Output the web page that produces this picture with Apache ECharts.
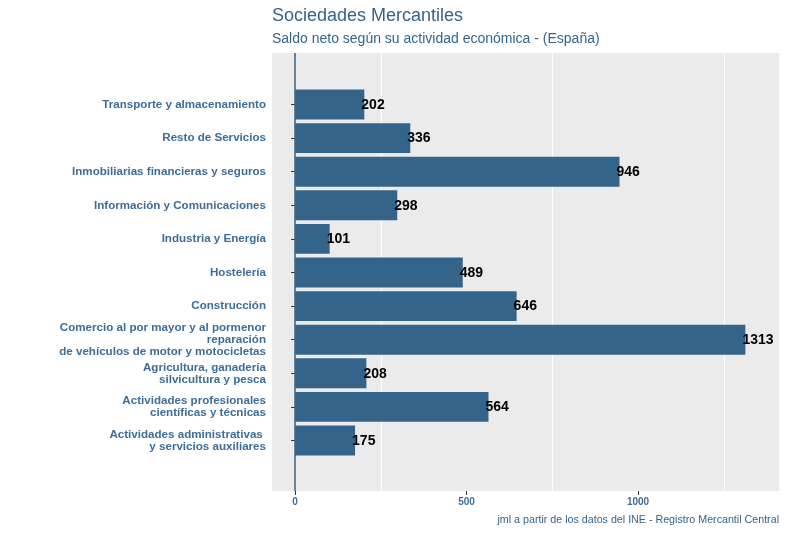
<!DOCTYPE html>
<html>
<head>
<meta charset="utf-8">
<script src="https://cdn.jsdelivr.net/npm/echarts@6/dist/echarts.min.js"></script>
<style>html,body{margin:0;padding:0;background:#fff}#c{width:787px;height:533px}</style>
</head>
<body>
<div id="c"></div>
<script>
const categories = [
  "Actividades administrativas \ny servicios auxiliares",
  "Actividades profesionales\ncientíficas y técnicas",
  "Agricultura, ganadería\nsilvicultura y pesca",
  "Comercio al por mayor y al pormenor\nreparación\nde vehículos de motor y motocicletas",
  "Construcción",
  "Hostelería",
  "Industria y Energía",
  "Información y Comunicaciones",
  "Inmobiliarias financieras y seguros",
  "Resto de Servicios",
  "Transporte y almacenamiento"
];
const values = [175, 564, 208, 1313, 646, 489, 101, 298, 946, 336, 202];
const xTickValues = [0, 500, 1000];
const xGridValues = [250, 750, 1250];
const xMin = -67.2, xMax = 1411;

const BLUE = '#35648A';
const TXT = '#3D6D99';
const chart = echarts.init(document.getElementById('c'), null, {renderer: 'canvas'});
const FONT = '"Liberation Sans", Arial, sans-serif';

chart.setOption({
  animation: false,
  textStyle: {fontFamily: FONT},
  title: [
    {text: 'Sociedades Mercantiles', left: 267, top: 2,
     textStyle: {fontSize: 18, fontWeight: 'normal', color: BLUE, fontFamily: FONT}},
    {text: 'Saldo neto según su actividad económica - (España)', left: 267, top: 27,
     textStyle: {fontSize: 14, fontWeight: 'normal', color: BLUE, fontFamily: FONT}},
    {text: 'jml a partir de los datos del INE - Registro Mercantil Central', right: 3, top: 510,
     textStyle: {fontSize: 10.7, fontWeight: 'normal', color: BLUE, fontFamily: FONT}}
  ],
  grid: [
    {left: 272, right: 8, top: 53, bottom: 42, show: true, backgroundColor: '#EBEBEB', borderWidth: 0},
    {left: 272, right: 8, top: 87.7, bottom: 75.7, show: false}
  ],
  xAxis: [
    {type: 'value', gridIndex: 0, min: xMin, max: xMax,
     splitLine: {show: false}, axisLine: {show: false},
     axisTick: {show: true, customValues: xTickValues, length: 4, lineStyle: {color: '#333', width: 1}},
     axisLabel: {show: true, customValues: xTickValues, margin: 6, fontSize: 10, fontWeight: 'bold', color: TXT, fontFamily: FONT,
       formatter: v => String(v)}},
    {type: 'value', gridIndex: 1, min: xMin, max: xMax, show: false, splitLine: {show: false}}
  ],
  yAxis: [
    {type: 'value', gridIndex: 0, min: 0, max: 1, show: false, splitLine: {show: false}},
    {type: 'category', gridIndex: 1, data: categories,
     axisLine: {show: false},
     axisTick: {show: true, alignWithLabel: true, length: 4, lineStyle: {color: '#333', width: 1}},
     axisLabel: {margin: 6, fontSize: 11.6, fontWeight: 'bold', color: TXT, lineHeight: 12, fontFamily: FONT, align: 'right'},
     splitLine: {show: false}}
  ],
  series: [
    {type: 'line', xAxisIndex: 0, yAxisIndex: 0, data: [], silent: true, z: 1,
     markLine: {silent: true, symbol: 'none', animation: false, label: {show: false}, z: 1,
       data: xGridValues.map(v => ({xAxis: v, lineStyle: {color: '#ffffff', width: 1.1, type: 'solid'}}))
         .concat([{xAxis: 0, lineStyle: {color: BLUE, width: 1.5, type: 'solid'}}])}},
    {type: 'bar', xAxisIndex: 1, yAxisIndex: 1, data: values, barCategoryGap: '11%', z: 3,
     itemStyle: {color: BLUE},
     label: {show: true, position: 'right', distance: 0, offset: [-3, 0.5],
       fontSize: 14, fontWeight: 'bold', color: '#000', fontFamily: FONT}}
  ]
});
</script>
</body>
</html>
